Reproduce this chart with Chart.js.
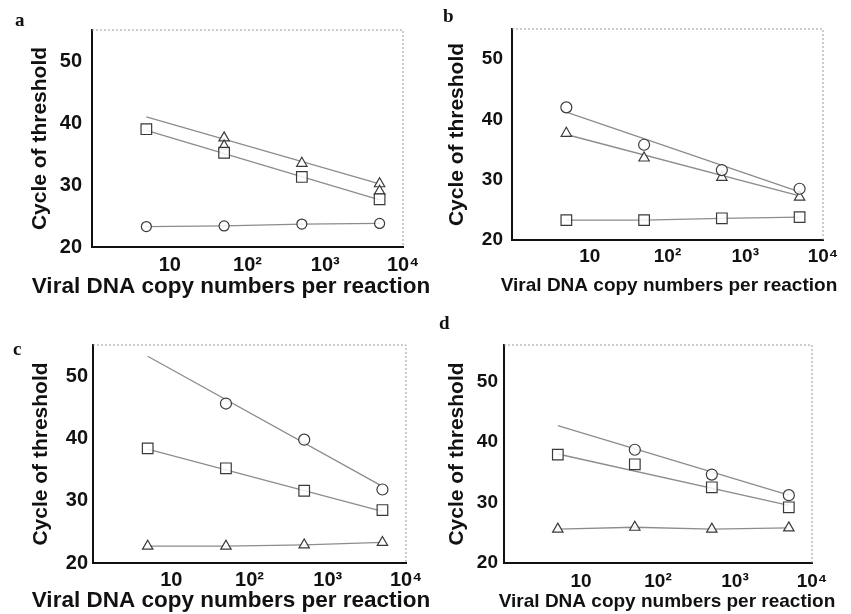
<!DOCTYPE html>
<html>
<head>
<meta charset="utf-8">
<script src="https://cdn.jsdelivr.net/npm/chart.js@4.4.1/dist/chart.umd.min.js"></script>
<style>
    html, body { margin: 0; padding: 0; background: #fff; }
    #figura { position: relative; width: 851px; height: 614px; overflow: hidden; }
    .panel { position: absolute; }
    .letra { position: absolute; font-family: "Liberation Serif", "DejaVu Serif", serif; font-weight: bold; font-size: 19px; color: #111; line-height: 1; }
</style>
</head>
<body>
<div id="figura">
    <div class="panel" style="left:0;top:0;width:445px;height:307px"><canvas id="graficoA"></canvas></div>
    <div class="panel" style="left:425px;top:0;width:426px;height:307px"><canvas id="graficoB"></canvas></div>
    <div class="panel" style="left:0;top:307px;width:445px;height:307px"><canvas id="graficoC"></canvas></div>
    <div class="panel" style="left:425px;top:307px;width:426px;height:307px"><canvas id="graficoD"></canvas></div>
    <div class="letra" style="left:15px;top:10px">a</div>
    <div class="letra" style="left:443px;top:6px">b</div>
    <div class="letra" style="left:13px;top:339px">c</div>
    <div class="letra" style="left:439px;top:313px">d</div>
</div>

<script>
// Datos comunes
const copias = [5, 50, 500, 5000];
const extremosAjuste = [5, 5000];
const ticksX = [10, 100, 1000, 10000];
const etiquetasX = ['10', '10²', '10³', '10⁴'];
const ticksY = [20, 30, 40, 50];
const tituloX = 'Viral DNA copy numbers per reaction';
const tituloY = 'Cycle of threshold';

// Panel a
const aCuadrados = [39.0, 35.2, 31.3, 27.7];
const aTriangulosX = [50, 50, 500, 5000, 5000];
const aTriangulos = [37.6, 36.3, 33.5, 30.2, 29.0];
const aCirculos = [23.3, 23.4, 23.7, 23.8];
const aAjusteSup = [41.0, 30.2];
const aAjusteInf = [38.8, 27.6];

// Panel b
const bCirculos = [42.0, 35.8, 31.6, 28.5];
const bTriangulos = [37.7, 33.6, 30.4, 27.1];
const bCuadrados = [23.3, 23.3, 23.6, 23.8];
const bAjusteSup = [41.2, 28.0];
const bAjusteInf = [37.5, 27.3];

// Panel c
const cCirculosX = [50, 500, 5000];
const cCirculos = [45.6, 39.8, 31.8];
const cCuadrados = [38.4, 35.2, 31.6, 28.5];
const cTriangulos = [22.7, 22.7, 22.9, 23.3];
const cAjusteSup = [53.2, 32.3];
const cAjusteInf = [38.3, 28.3];

// Panel d
const dCirculosX = [50, 500, 5000];
const dCirculos = [38.7, 34.6, 31.2];
const dCuadrados = [37.9, 36.3, 32.5, 29.2];
const dTriangulos = [25.6, 25.9, 25.6, 25.8];
const dAjusteSup = [42.7, 31.2];
const dAjusteInf = [38.0, 29.5];

const FUENTE = '"Liberation Sans", Arial, Helvetica, sans-serif';
const colorLinea = '#8c8c8c';
const colorMarca = '#3a3a3a';

function puntos(xs, ys) {
    return xs.map((x, i) => ({ x: x, y: ys[i] }));
}

function marcas(xs, ys, estilo, radio) {
    return {
        data: puntos(xs, ys),
        showLine: false,
        pointStyle: estilo,
        pointRadius: radio,
        pointBorderColor: colorMarca,
        pointBackgroundColor: 'rgba(255,255,255,0.85)',
        pointBorderWidth: 1.2,
        order: 0
    };
}

function linea(xs, ys) {
    return {
        data: puntos(xs, ys),
        showLine: true,
        borderColor: colorLinea,
        borderWidth: 1.3,
        pointRadius: 0,
        order: 1
    };
}

// Marco superior y derecho punteado
const marco = {
    id: 'marco',
    afterDraw(chart) {
        const { ctx, chartArea: a } = chart;
        ctx.save();
        ctx.strokeStyle = '#9a9a9a';
        ctx.lineWidth = 1;
        ctx.setLineDash([2, 2]);
        ctx.beginPath();
        ctx.moveTo(a.left, a.top);
        ctx.lineTo(a.right, a.top);
        ctx.lineTo(a.right, a.bottom);
        ctx.stroke();
        ctx.restore();
    }
};

// Título del eje x sin compresión (más ancho que el área del gráfico)
const tituloEjeX = {
    id: 'tituloEjeX',
    afterDraw(chart, args, opts) {
        const ctx = chart.ctx;
        ctx.save();
        ctx.fillStyle = '#111';
        ctx.font = 'bold ' + opts.size + 'px ' + FUENTE;
        ctx.textAlign = 'center';
        ctx.textBaseline = 'middle';
        ctx.fillText(tituloX, opts.x, opts.y);
        ctx.restore();
    }
};

function crearPanel(id, datasets, g) {
    new Chart(document.getElementById(id), {
        type: 'scatter',
        data: { datasets: datasets },
        plugins: [marco, tituloEjeX],
        options: {
            responsive: true,
            maintainAspectRatio: false,
            animation: false,
            layout: { padding: { top: g.arriba, right: g.derecha, left: 0, bottom: 0 } },
            plugins: {
                legend: { display: false },
                tooltip: { enabled: false },
                tituloEjeX: { x: g.tituloXx, y: g.tituloXy, size: g.fuenteTituloX }
            },
            scales: {
                x: {
                    type: 'logarithmic',
                    min: 1,
                    max: 10000,
                    afterBuildTicks: s => { s.ticks = ticksX.map(v => ({ value: v })); },
                    afterFit: s => { s.height = g.altoX; },
                    ticks: {
                        autoSkip: false,
                        maxRotation: 0,
                        padding: g.padTickX,
                        color: '#111',
                        font: { family: FUENTE, size: g.fuenteTick, weight: 'bold' },
                        callback: (v, i) => etiquetasX[i]
                    },
                    grid: { display: false, drawTicks: false },
                    border: { color: '#111', width: 2 }
                },
                y: {
                    min: 20,
                    max: g.maxY,
                    afterBuildTicks: s => { s.ticks = ticksY.map(v => ({ value: v })); },
                    afterFit: s => { s.width = g.anchoY; },
                    ticks: {
                        padding: g.padTickY,
                        color: '#111',
                        font: { family: FUENTE, size: g.fuenteTick, weight: 'bold' }
                    },
                    grid: { display: false, drawTicks: false },
                    border: { color: '#111', width: 2 },
                    title: {
                        display: true,
                        text: tituloY,
                        color: '#111',
                        font: { family: FUENTE, size: g.fuenteTituloY, weight: 'bold', lineHeight: 1.2 },
                        padding: { top: g.padTituloY, bottom: 0 }
                    }
                }
            }
        }
    });
}

document.addEventListener('DOMContentLoaded', function () {
    crearPanel('graficoA', [
        marcas(copias, aCuadrados, 'rect', 7.5),
        marcas(aTriangulosX, aTriangulos, 'triangle', 6),
        marcas(copias, aCirculos, 'circle', 5),
        linea(extremosAjuste, aAjusteSup),
        linea(extremosAjuste, aAjusteInf),
        linea(copias, aCirculos)
    ], { arriba: 30, derecha: 42, altoX: 60, anchoY: 92, maxY: 55, fuenteTick: 20, fuenteTituloX: 22.5, fuenteTituloY: 21,
         padTickX: 6, padTickY: 10, tituloXx: 231, tituloXy: 287, padTituloY: 28 });

    crearPanel('graficoB', [
        marcas(copias, bCirculos, 'circle', 5.5),
        marcas(copias, bTriangulos, 'triangle', 6),
        marcas(copias, bCuadrados, 'rect', 7.5),
        linea(extremosAjuste, bAjusteSup),
        linea(extremosAjuste, bAjusteInf),
        linea(copias, bCuadrados)
    ], { arriba: 29, derecha: 28, altoX: 67, anchoY: 87, maxY: 55, fuenteTick: 19, fuenteTituloX: 19, fuenteTituloY: 21,
         padTickX: 5, padTickY: 9, tituloXx: 244, tituloXy: 286, padTituloY: 20 });

    crearPanel('graficoC', [
        marcas(cCirculosX, cCirculos, 'circle', 5.5),
        marcas(copias, cCuadrados, 'rect', 7.5),
        marcas(copias, cTriangulos, 'triangle', 6),
        linea(extremosAjuste, cAjusteSup),
        linea(extremosAjuste, cAjusteInf),
        linea(copias, cTriangulos)
    ], { arriba: 38, derecha: 39, altoX: 51, anchoY: 93, maxY: 55, fuenteTick: 20, fuenteTituloX: 22.5, fuenteTituloY: 21,
         padTickX: 5, padTickY: 5, tituloXx: 231, tituloXy: 294, padTituloY: 29 });

    crearPanel('graficoD', [
        marcas(dCirculosX, dCirculos, 'circle', 5.5),
        marcas(copias, dCuadrados, 'rect', 7.5),
        marcas(copias, dTriangulos, 'triangle', 6),
        linea(extremosAjuste, dAjusteSup),
        linea(extremosAjuste, dAjusteInf),
        linea(copias, dTriangulos)
    ], { arriba: 38, derecha: 39, altoX: 51, anchoY: 79, maxY: 56, fuenteTick: 19, fuenteTituloX: 19, fuenteTituloY: 21,
         padTickX: 7, padTickY: 6, tituloXx: 242, tituloXy: 295, padTituloY: 20 });
});
</script>
</body>
</html>
